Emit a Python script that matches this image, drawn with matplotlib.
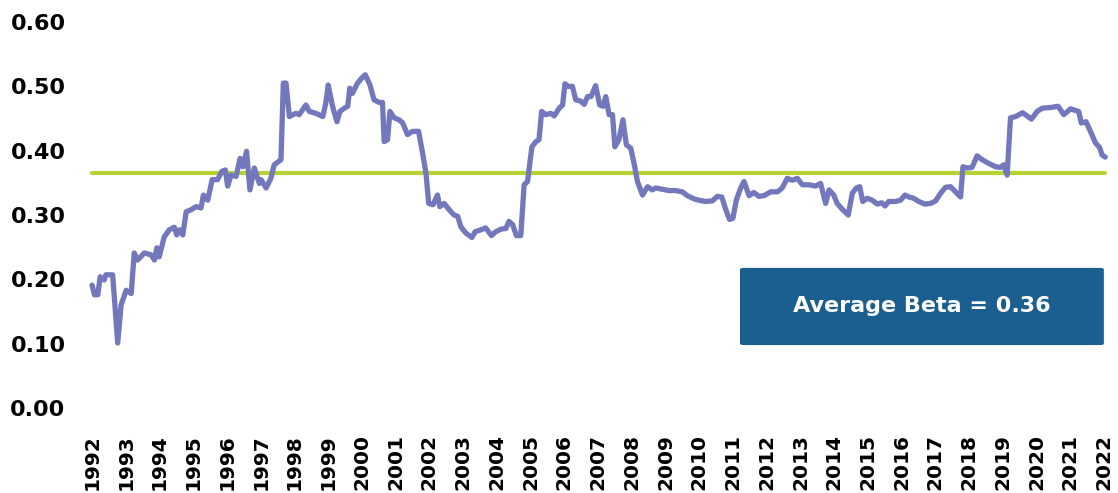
import numpy as np
import matplotlib
matplotlib.use('Agg')
import matplotlib.pyplot as plt
from matplotlib.patches import FancyBboxPatch

# rolling beta (years since 1992, beta)
t = [0.00, 0.07, 0.17, 0.24, 0.36, 0.41, 0.61, 0.76, 0.86, 1.01, 1.16, 1.25, 1.35, 1.55,
     1.75, 1.85, 1.92, 1.99, 2.14, 2.29, 2.44, 2.51, 2.59, 2.69, 2.79, 2.93, 3.08, 3.23,
     3.30, 3.43, 3.56, 3.72, 3.85, 3.95, 4.02, 4.12, 4.27, 4.39, 4.47, 4.58, 4.68, 4.81,
     4.96, 5.01, 5.16, 5.30, 5.40, 5.60, 5.67, 5.75, 5.85, 6.04, 6.14, 6.34, 6.44, 6.64,
     6.84, 6.93, 7.00, 7.13, 7.26, 7.35, 7.48, 7.58, 7.64, 7.72, 7.87, 8.00, 8.10, 8.24,
     8.36, 8.51, 8.61, 8.66, 8.76, 8.83, 8.96, 9.10, 9.21, 9.35, 9.50, 9.68, 9.80, 9.90,
     9.98, 10.11, 10.24, 10.31, 10.44, 10.59, 10.73, 10.84, 10.93, 11.08, 11.26, 11.36,
     11.53, 11.67, 11.84, 11.97, 12.12, 12.27, 12.36, 12.47, 12.58, 12.71, 12.81, 12.91,
     13.04, 13.16, 13.25, 13.33, 13.45, 13.60, 13.70, 13.85, 13.95, 14.02, 14.12, 14.24,
     14.34, 14.49, 14.59, 14.69, 14.79, 14.93, 15.05, 15.15, 15.23, 15.33, 15.43, 15.50,
     15.62, 15.74, 15.84, 15.97, 16.07, 16.17, 16.32, 16.47, 16.61, 16.71, 16.91, 17.10,
     17.30, 17.50, 17.65, 17.85, 17.99, 18.19, 18.39, 18.54, 18.67, 18.79, 18.90, 19.00,
     19.10, 19.23, 19.33, 19.48, 19.62, 19.77, 19.92, 20.12, 20.32, 20.46, 20.61, 20.76,
     20.91, 21.06, 21.25, 21.45, 21.60, 21.75, 21.85, 21.99, 22.09, 22.24, 22.42, 22.54,
     22.66, 22.76, 22.85, 22.98, 23.13, 23.28, 23.41, 23.51, 23.62, 23.82, 23.97, 24.10,
     24.22, 24.36, 24.51, 24.69, 24.86, 25.01, 25.16, 25.30, 25.45, 25.60, 25.75, 25.82,
     25.95, 26.09, 26.24, 26.39, 26.59, 26.79, 26.93, 27.03, 27.13, 27.23, 27.38, 27.59,
     27.85, 28.02, 28.17, 28.41, 28.64, 28.81, 29.01, 29.25, 29.33, 29.47, 29.60, 29.75,
     29.87, 29.95, 30.04]

beta = [0.191, 0.176, 0.176, 0.204, 0.199, 0.207, 0.207, 0.101, 0.160, 0.183, 0.178, 0.241,
        0.230, 0.241, 0.238, 0.230, 0.249, 0.235, 0.266, 0.277, 0.281, 0.269, 0.277, 0.269,
        0.305, 0.308, 0.313, 0.311, 0.331, 0.323, 0.355, 0.355, 0.368, 0.370, 0.345, 0.362,
        0.360, 0.388, 0.375, 0.399, 0.339, 0.373, 0.349, 0.355, 0.342, 0.357, 0.378, 0.386,
        0.505, 0.505, 0.453, 0.458, 0.456, 0.471, 0.461, 0.458, 0.453, 0.474, 0.502, 0.469,
        0.445, 0.461, 0.466, 0.469, 0.497, 0.489, 0.505, 0.513, 0.518, 0.502, 0.479, 0.475,
        0.475, 0.414, 0.417, 0.461, 0.451, 0.448, 0.443, 0.425, 0.430, 0.430, 0.396, 0.365,
        0.318, 0.316, 0.331, 0.313, 0.318, 0.308, 0.300, 0.298, 0.282, 0.272, 0.265, 0.274,
        0.277, 0.280, 0.268, 0.274, 0.278, 0.279, 0.290, 0.285, 0.268, 0.268, 0.347, 0.352,
        0.406, 0.414, 0.417, 0.461, 0.456, 0.458, 0.454, 0.466, 0.471, 0.504, 0.500, 0.500,
        0.479, 0.477, 0.472, 0.484, 0.484, 0.501, 0.471, 0.469, 0.484, 0.456, 0.456, 0.406,
        0.417, 0.448, 0.409, 0.404, 0.380, 0.352, 0.331, 0.344, 0.339, 0.342, 0.340, 0.338,
        0.338, 0.336, 0.330, 0.325, 0.323, 0.321, 0.322, 0.329, 0.328, 0.308, 0.293, 0.295,
        0.323, 0.342, 0.352, 0.330, 0.335, 0.329, 0.330, 0.336, 0.336, 0.342, 0.357, 0.354,
        0.357, 0.347, 0.347, 0.345, 0.349, 0.318, 0.339, 0.331, 0.318, 0.309, 0.300, 0.334,
        0.342, 0.344, 0.321, 0.326, 0.323, 0.317, 0.319, 0.314, 0.321, 0.321, 0.323, 0.331,
        0.328, 0.326, 0.321, 0.317, 0.318, 0.322, 0.334, 0.343, 0.344, 0.336, 0.328, 0.375,
        0.373, 0.374, 0.392, 0.386, 0.380, 0.375, 0.374, 0.378, 0.362, 0.451, 0.453, 0.459,
        0.449, 0.461, 0.466, 0.467, 0.469, 0.456, 0.465, 0.461, 0.443, 0.445, 0.430, 0.412,
        0.405, 0.393, 0.390]

avg_beta = 0.365
avg_label = 'Average Beta = 0.36'
years = list(range(1992, 2023))

plt.rcParams['font.family'] = 'DejaVu Sans'
plt.rcParams['font.weight'] = 'bold'

fig = plt.figure(figsize=(11.18, 4.93), dpi=100)
ax = fig.add_axes([85 / 1118, 1 - 408 / 493, 1025 / 1118, 386 / 493])

x = 1992 + np.array(t)
ax.plot(x, beta, color='#7377BC', lw=3.8, solid_capstyle='round', solid_joinstyle='round', zorder=3)
ax.plot([x[0], x[-1]], [avg_beta, avg_beta], color='#B6D334', lw=3.0, solid_capstyle='round', zorder=2)

ax.set_xlim(1991.79, 2022.18)
ax.set_ylim(0, 0.6)
ax.set_yticks(np.arange(0, 0.61, 0.1))
ax.set_yticklabels(['%.2f' % v for v in np.arange(0, 0.61, 0.1)], fontsize=16, fontweight='bold')
ax.set_xticks(years)
ax.set_xticklabels([str(y) for y in years], rotation=90, fontsize=14.5, fontweight='bold')
ax.tick_params(axis='y', length=0, pad=14)
ax.tick_params(axis='x', length=0, pad=19)
for s in ax.spines.values():
    s.set_visible(False)

box = FancyBboxPatch((0.639, 0.163), 0.355, 0.2, boxstyle='round,pad=0,rounding_size=0.004',
                     transform=ax.transAxes, facecolor='#1A5F8F', edgecolor='none', zorder=4)
ax.add_patch(box)
ax.text(0.639 + 0.355 / 2, 0.263, avg_label, transform=ax.transAxes, ha='center', va='center',
        color='white', fontsize=16, fontweight='bold', zorder=5)

fig.savefig('out.png', dpi=100)
